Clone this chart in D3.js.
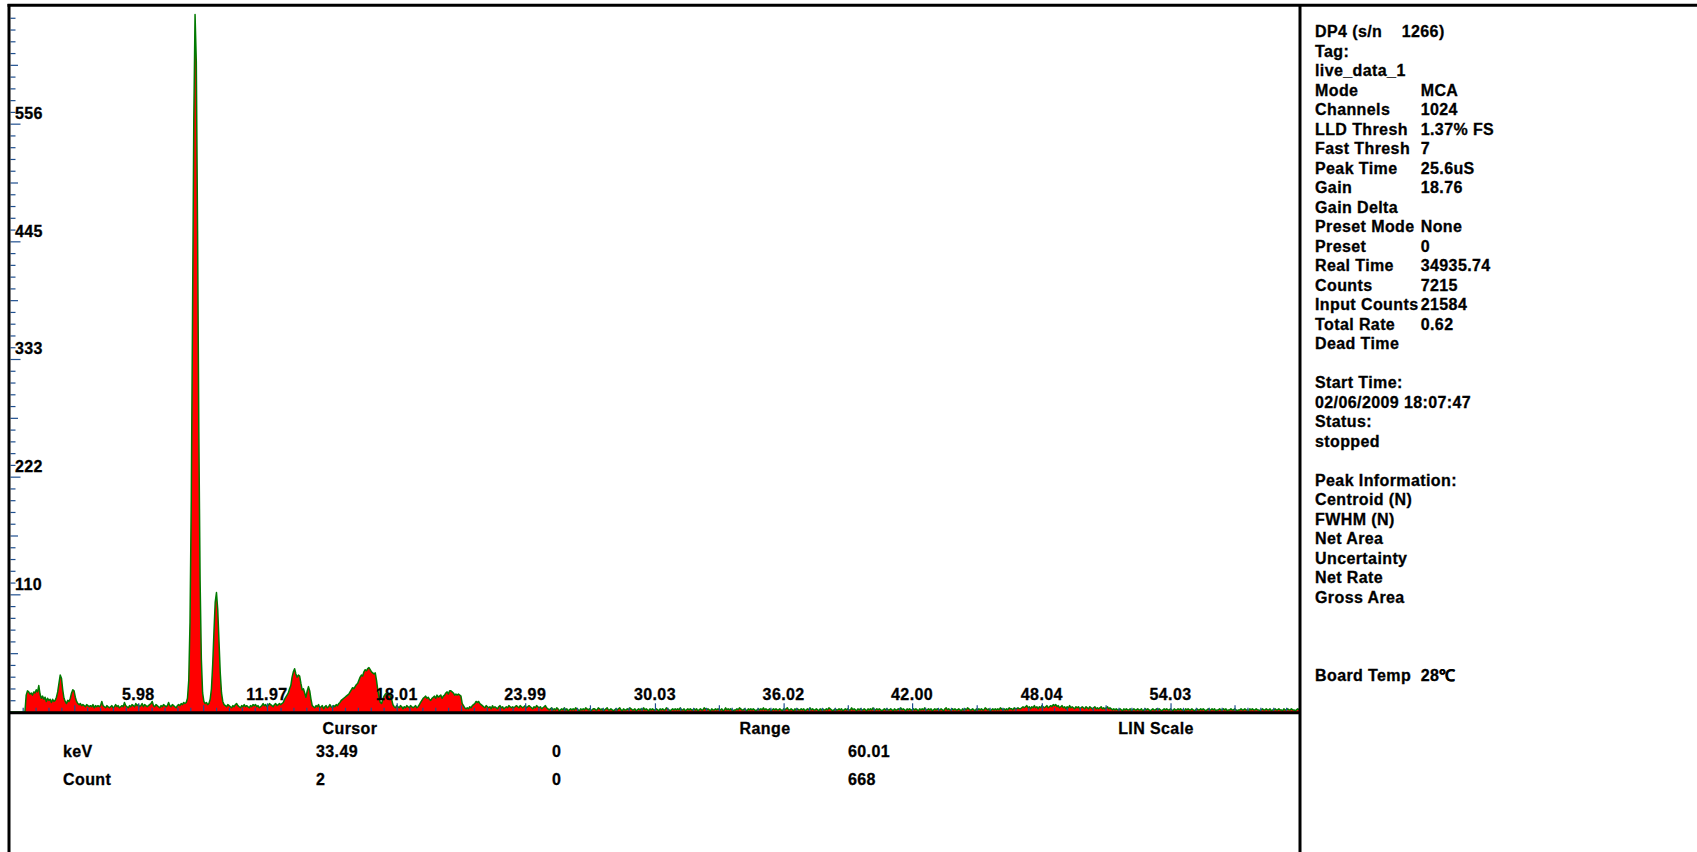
<!DOCTYPE html>
<html><head><meta charset="utf-8">
<script src="https://cdn.jsdelivr.net/npm/d3@7"></script>
<style>
body{margin:0;background:#fff;overflow:hidden}
text{font-family:"Liberation Sans",Arial,Helvetica,sans-serif;font-weight:bold;font-size:16px;letter-spacing:0.4px;fill:#000;stroke:#000;stroke-width:0.3px}
</style>
</head><body><svg id="chart" width="1697" height="852"></svg>
<script>
// ---- data ----
const keVMax = 60.01;
const countMax = 668;
// counts per channel (1024 channels)
const counts = [
0,0,0,0,0,0,0,0,0,0,0,0,0,16,20,19,
17,18,16,19,18,21,19,25,17,13,15,12,14,10,13,11,
12,9,12,10,11,14,19,27,35,32,21,13,10,8,11,10,
13,18,21,20,14,10,8,7,8,6,7,6,5,7,6,5,
6,5,7,4,6,5,6,5,6,10,6,5,4,6,5,4,
5,6,4,5,7,5,6,4,5,6,5,9,6,5,4,6,
5,7,6,5,8,6,7,5,6,8,5,7,6,5,6,7,
8,10,6,5,7,6,5,4,6,5,7,6,5,6,9,6,
5,7,6,5,4,6,7,6,8,7,9,8,9,13,30,85,
200,375,560,660,615,455,265,125,50,18,10,8,9,7,8,12,
22,45,76,104,113,97,67,37,18,10,7,6,5,7,6,5,
4,6,5,7,8,6,5,4,6,5,7,5,6,5,4,6,
5,7,6,7,5,6,4,5,6,8,6,7,5,6,8,7,
6,5,7,8,6,7,8,7,8,9,12,14,16,18,22,25,
33,38,41,36,33,35,34,27,21,22,18,14,20,24,20,12,
6,5,4,6,5,7,4,5,6,3,5,6,4,5,7,5,
4,6,5,7,6,8,9,11,12,13,14,15,16,17,19,21,
23,22,24,26,27,30,33,35,34,38,40,39,41,42,40,38,
37,36,37,30,21,14,9,8,12,15,17,18,16,17,15,12,
7,5,4,6,5,4,6,5,3,5,4,6,5,4,6,5,
4,5,6,4,5,7,9,11,13,14,15,13,14,12,11,13,
14,15,13,16,14,15,16,13,15,16,18,19,17,20,20,19,
18,16,17,16,17,16,15,8,6,4,3,4,3,5,4,6,
7,8,10,9,10,8,7,6,5,4,6,5,4,5,3,6,
4,5,4,3,5,6,4,5,3,4,5,4,6,5,4,5,
4,5,6,5,4,6,5,4,5,6,4,5,6,5,4,3,
5,4,6,5,4,5,3,4,5,6,4,3,2,3,4,2,
3,2,4,3,1,2,3,2,4,2,3,1,2,3,2,3,
2,4,3,2,1,3,2,3,2,4,3,2,3,1,2,3,
3,2,2,4,3,2,3,1,2,3,4,2,2,3,2,1,
2,3,2,3,4,2,1,3,2,2,3,2,4,3,2,2,
3,1,2,3,2,3,2,4,2,3,2,1,3,2,3,2,
2,3,2,1,3,2,3,2,2,4,3,2,1,2,3,2,
3,2,3,2,4,2,2,3,1,2,3,2,3,2,2,3,
2,3,1,2,3,2,2,4,3,2,3,2,1,3,2,2,
3,2,3,2,2,3,1,2,4,2,3,2,3,2,1,2,
2,3,2,4,3,2,2,3,2,1,3,2,3,2,3,2,
1,2,3,2,3,2,4,2,3,2,2,3,1,2,3,2,
3,2,2,3,2,1,3,2,3,4,2,2,3,2,1,3,
2,3,2,2,3,2,3,1,2,3,2,4,2,3,2,2,
3,2,1,3,2,3,2,2,3,2,4,3,2,1,2,3,
2,2,3,2,3,1,2,3,2,3,2,2,4,2,3,2,
1,3,2,3,2,2,3,2,1,3,2,3,2,4,2,2,
3,2,3,2,1,2,3,2,3,2,2,3,2,1,3,2,
2,3,2,4,2,3,2,1,3,2,3,2,2,3,2,3,
2,1,3,2,3,2,4,2,2,3,2,3,1,2,3,2,
3,2,2,3,2,1,3,4,2,3,2,2,3,2,3,2,
2,3,2,1,3,2,3,2,4,3,2,2,3,2,1,3,
2,3,2,3,2,2,4,3,2,3,1,2,3,2,3,2,
3,2,4,3,2,3,2,3,2,4,3,3,2,4,3,3,
4,3,3,4,5,4,5,6,4,5,3,5,4,6,4,5,
3,5,4,6,5,4,5,6,4,5,6,5,7,6,7,5,
6,4,5,6,4,5,3,5,4,6,4,5,4,3,5,4,
5,3,4,5,4,3,5,4,3,5,4,3,4,5,3,4,
3,4,5,3,4,3,4,5,3,4,3,2,3,2,3,2,
2,3,2,1,3,2,3,2,2,3,1,2,3,2,2,3,
2,2,3,1,2,3,2,3,2,1,2,3,2,2,3,2,
3,2,1,2,3,2,3,2,2,3,2,1,3,2,2,3,
2,3,2,2,1,3,2,3,2,2,3,2,1,2,3,2,
2,3,2,3,2,1,2,3,2,2,3,2,3,1,2,2,
3,2,2,3,2,3,1,2,2,3,2,2,3,2,1,2,
2,3,2,2,3,2,2,1,3,2,3,2,2,3,2,2,
1,2,3,2,2,3,2,2,3,1,2,2,3,2,2,3,
2,2,1,3,2,2,3,2,2,3,2,2,1,2,3,2
];
const xTickValues = [5.98, 11.97, 18.01, 23.99, 30.03, 36.02, 42.00, 48.04, 54.03];
const xTickLabels = ["5.98","11.97","18.01","23.99","30.03","36.02","42.00","48.04","54.03"];
const yTickLabels = ["110","222","333","445","556"];
const infoLabels = ["DP4 (s/n","Tag:","live_data_1","Mode","Channels","LLD Thresh","Fast Thresh","Peak Time","Gain","Gain Delta","Preset Mode","Preset","Real Time","Counts","Input Counts","Total Rate","Dead Time","","Start Time:","02/06/2009 18:07:47","Status:","stopped","","Peak Information:","Centroid (N)","FWHM (N)","Net Area","Uncertainty","Net Rate","Gross Area","","","","Board Temp"];
const infoValues = ["1266)","","","MCA","1024","1.37% FS","7","25.6uS","18.76","","None","0","34935.74","7215","21584","0.62","","","","","","","","","","","","","","","","","","28\u2103"];
const panelHeaders = ["Cursor","Range","LIN Scale"];
const panelRows = [["keV","33.49","0","60.01"],["Count","2","0","668"]];

// ---- drawing ----
const svg = d3.select("#chart");
svg.append("rect").attr("width",1697).attr("height",852).attr("fill","#fff");

const x = d3.scaleLinear().domain([0, keVMax]).range([9.8, 1299]);
const y = d3.scaleLinear().domain([0, countMax]).range([712, 6]);
const chKeV = i => i * keVMax / (counts.length - 1);

// spectrum
const area = d3.area().x((d,i)=>x(chKeV(i))).y0(y(0)).y1(d=>y(d));
const line = d3.line().x((d,i)=>x(chKeV(i))).y(d=>y(d));
svg.append("path").datum(counts).attr("d",area).attr("fill","#ff0000");
svg.append("path").datum(counts).attr("d",line).attr("fill","none")
   .attr("stroke","#007a00").attr("stroke-width",1.5).attr("stroke-linejoin","round");

const tickColor = "#1f4f8f";
function styleAxis(g){
  g.select(".domain").remove();
  g.selectAll(".tick line").attr("stroke",tickColor).attr("stroke-width",1.2);
  g.selectAll(".tick text").remove();
}
// y axis ticks
const yAll = d3.range(1,60).map(k=>countMax*k/60);
const yMinor = yAll.filter((v,i)=>(i+1)%5!==0);
const yMid = yAll.filter((v,i)=>(i+1)%5===0 && (i+1)%10!==0);
const yMajor = yAll.filter((v,i)=>(i+1)%10===0);
[[yMinor,5],[yMid,7.5],[yMajor,10]].forEach(([vals,len])=>{
  svg.append("g").attr("transform","translate(10.5,0)")
     .call(d3.axisRight(y).tickValues(vals).tickSize(len).tickSizeOuter(0))
     .call(styleAxis);
});
svg.append("g").selectAll("text").data(yMajor).join("text")
   .attr("x",15).attr("y",d=>y(d)-4.7).text((d,i)=>yTickLabels[i]);

// x axis ticks
const xAll = d3.range(1,100).map(k=>keVMax*k/100);
const xMinor = xAll.filter((v,i)=>(i+1)%5!==0);
const xMid = xAll.filter((v,i)=>(i+1)%5===0 && (i+1)%10!==0);
[[xMinor,3.5],[xMid,6],[xTickValues,8]].forEach(([vals,len])=>{
  svg.append("g").attr("transform","translate(0,711.3)")
     .call(d3.axisTop(x).tickValues(vals).tickSize(len).tickSizeOuter(0))
     .call(styleAxis);
});
svg.append("g").selectAll("text").data(xTickValues).join("text")
   .attr("x",d=>x(d)).attr("y",699.5).attr("text-anchor","middle").text((d,i)=>xTickLabels[i]);

// frame
const frame = svg.append("g").attr("stroke","#000").attr("stroke-width",3);
frame.append("line").attr("x1",7.5).attr("x2",1697).attr("y1",5.3).attr("y2",5.3);
frame.append("line").attr("x1",9).attr("x2",9).attr("y1",4).attr("y2",852);
frame.append("line").attr("x1",1300).attr("x2",1300).attr("y1",4).attr("y2",852);
frame.append("line").attr("x1",9).attr("x2",1300).attr("y1",712.8).attr("y2",712.8);

// info panel
const info = svg.append("g");
info.selectAll("text.l").data(infoLabels).join("text").attr("class","l")
   .attr("x",1315).attr("y",(d,i)=>37.3+i*19.5).text(d=>d);
info.selectAll("text.v").data(infoValues).join("text").attr("class","v")
   .attr("x",(d,i)=>i===0?1401.7:1420.7).attr("y",(d,i)=>37.3+i*19.5).text(d=>d);

// bottom panel
const hx = [350, 765, 1156];
svg.append("g").selectAll("text").data(panelHeaders).join("text")
   .attr("x",(d,i)=>hx[i]).attr("y",734).attr("text-anchor","middle").text(d=>d);
const cx = [63, 316, 552, 848];
panelRows.forEach((row,r)=>{
  svg.append("g").selectAll("text").data(row).join("text")
     .attr("x",(d,i)=>cx[i]).attr("y",757+r*28).text(d=>d);
});
</script>
</body></html>
